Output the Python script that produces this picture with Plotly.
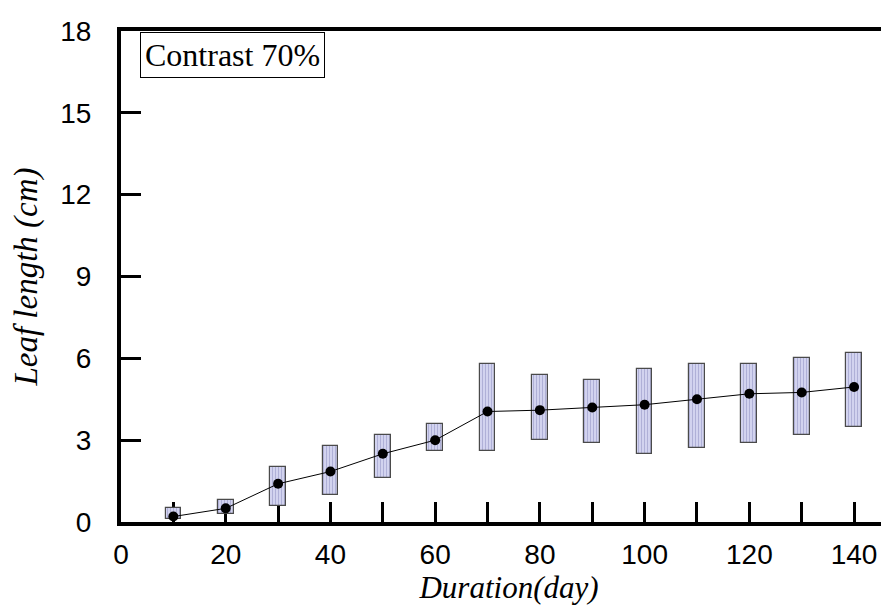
import plotly.graph_objects as go

days = [10, 20, 30, 40, 50, 60, 70, 80, 90, 100, 110, 120, 130, 140]
mean_len = [0.2, 0.5, 1.4, 1.85, 2.5, 3.0, 4.05, 4.1, 4.2, 4.3, 4.5, 4.7, 4.75, 4.95]
low_len = [0.1, 0.3, 0.6, 1.0, 1.6, 2.6, 2.6, 3.0, 2.9, 2.5, 2.7, 2.9, 3.2, 3.5]
high_len = [0.5, 0.8, 2.0, 2.8, 3.2, 3.6, 5.8, 5.4, 5.2, 5.6, 5.8, 5.8, 6.0, 6.2]
x_ticks = [0, 20, 40, 60, 80, 100, 120, 140]
y_ticks = [0, 3, 6, 9, 12, 15, 18]

fig = go.Figure()
fig.add_trace(go.Bar(
    x=days,
    base=low_len,
    y=[h - l for h, l in zip(high_len, low_len)],
    width=3,
    marker=dict(
        color="#cfd0ec",
        line=dict(color="#4a4a4a", width=1.2),
        pattern=dict(shape="|", fgcolor="#8c8ec0", bgcolor="#d2d3ef", size=3, solidity=0.35),
    ),
    showlegend=False,
    hoverinfo="skip",
))
fig.add_trace(go.Scatter(
    x=days, y=mean_len, mode="lines+markers",
    line=dict(color="black", width=1),
    marker=dict(color="black", size=10),
    showlegend=False,
))

fig.update_layout(
    width=889, height=607,
    margin=dict(l=113, r=0, t=22.5, b=92.5),
    paper_bgcolor="white", plot_bgcolor="white",
    font=dict(family="Liberation Sans, Arial", size=28, color="black"),
    xaxis=dict(
        range=[0, 148.2], tickvals=x_ticks, ticktext=[str(v) for v in x_ticks],
        showline=True, linecolor="black", linewidth=4, mirror=True,
        ticks="inside", ticklen=20, tickwidth=3, tickcolor="black",
        minor=dict(dtick=10, tick0=0, ticks="inside", ticklen=20, tickwidth=3, tickcolor="black"),
        showgrid=False, zeroline=False, layer="below traces",
        ticklabelstandoff=4,
        title=dict(text="Duration(day)", font=dict(family="Liberation Serif, Times New Roman", size=31, style="italic"), standoff=0),
    ),
    yaxis=dict(
        range=[0, 18], tickvals=y_ticks,
        showline=True, linecolor="black", linewidth=4, mirror=False,
        ticks="inside", ticklen=20, tickwidth=3, tickcolor="black",
        showgrid=False, zeroline=False, layer="below traces",
        ticklabelstandoff=20,
        title=dict(text="Leaf length (cm)", font=dict(family="Liberation Serif, Times New Roman", size=33, style="italic"), standoff=26),
    ),
    annotations=[dict(
        text="Contrast 70%", xref="paper", yref="paper",
        x=(139 - 113 - 7) / 776, y=(607 - 92.5 - 24) / 492,
        xanchor="left", yanchor="top", showarrow=False,
        font=dict(family="Liberation Serif, Times New Roman", size=32, color="black"),
        bordercolor="black", borderwidth=1, borderpad=4, bgcolor="white",
    )],
    bargap=0,
)

fig.write_html("out.html")
